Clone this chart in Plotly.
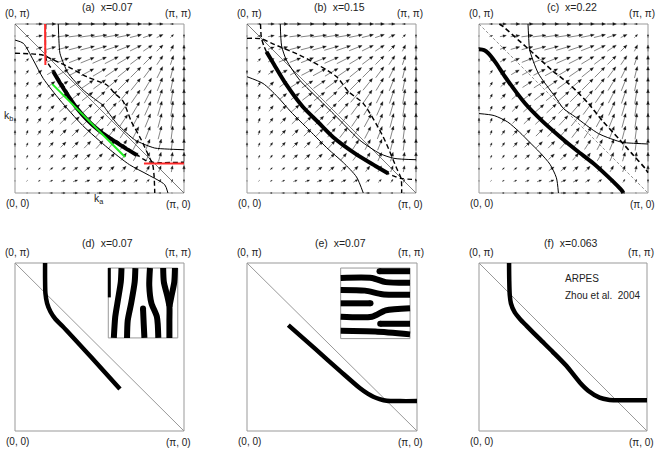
import plotly.graph_objects as go

# ---------------- data (k in units of pi, 0..1) ----------------
grid_k = [0.0, 0.0714, 0.1429, 0.2143, 0.2857, 0.3571, 0.4286, 0.5,
          0.5714, 0.6429, 0.7143, 0.7857, 0.8571, 0.9286, 1.0]

# velocity arrows, rows = k_b (bottom -> top), columns = k_a (left -> right)
vel_u = [
    [0, .11, .22, .31, .39, .45, .49, .50, .49, .45, .39, .31, .22, .11, 0],
    [0, .11, .22, .32, .40, .46, .50, .51, .50, .46, .40, .32, .22, .11, 0],
    [0, .12, .24, .34, .43, .50, .53, .55, .53, .50, .43, .34, .24, .12, 0],
    [0, .13, .26, .38, .48, .55, .59, .61, .59, .55, .48, .38, .26, .13, 0],
    [0, .15, .30, .43, .54, .62, .67, .69, .67, .62, .54, .43, .30, .15, 0],
    [0, .17, .34, .49, .61, .70, .76, .78, .76, .70, .61, .49, .34, .17, 0],
    [0, .20, .38, .55, .69, .80, .86, .89, .86, .80, .69, .55, .38, .20, 0],
    [0, .22, .43, .62, .78, .90, .97, 1.0, .97, .90, .78, .62, .43, .22, 0],
    [0, .24, .48, .69, .87, 1.0, 1.08, 1.11, 1.08, 1.0, .87, .69, .48, .24, 0],
    [0, .27, .52, .75, .95, 1.10, 1.18, 1.22, 1.18, 1.10, .95, .75, .52, .27, 0],
    [0, .29, .56, .81, 1.02, 1.18, 1.27, 1.31, 1.27, 1.18, 1.02, .81, .56, .29, 0],
    [0, .31, .60, .86, 1.09, 1.25, 1.35, 1.39, 1.35, 1.25, 1.09, .86, .60, .31, 0],
    [0, .32, .63, .90, 1.13, 1.31, 1.41, 1.45, 1.41, 1.31, 1.13, .90, .63, .32, 0],
    [0, .33, .64, .92, 1.16, 1.34, 1.45, 1.49, 1.45, 1.34, 1.16, .92, .64, .33, 0],
    [0, .33, .65, .93, 1.17, 1.35, 1.46, 1.50, 1.46, 1.35, 1.17, .93, .65, .33, 0],
]
vel_v = [
    [0, 0, 0, 0, 0, 0, 0, 0, 0, 0, 0, 0, 0, 0, 0],
    [.11, .11, .12, .13, .15, .17, .20, .22, .24, .27, .29, .31, .32, .33, .33],
    [.22, .22, .24, .26, .30, .34, .38, .43, .48, .52, .56, .60, .63, .64, .65],
    [.31, .32, .34, .38, .43, .49, .55, .62, .69, .75, .81, .86, .90, .92, .93],
    [.39, .40, .43, .48, .54, .61, .69, .78, .87, .95, 1.02, 1.09, 1.13, 1.16, 1.17],
    [.45, .46, .50, .55, .62, .70, .80, .90, 1.0, 1.10, 1.18, 1.25, 1.31, 1.34, 1.35],
    [.49, .50, .53, .59, .67, .76, .86, .97, 1.08, 1.18, 1.27, 1.35, 1.41, 1.45, 1.46],
    [.50, .51, .55, .61, .69, .78, .89, 1.0, 1.11, 1.22, 1.31, 1.39, 1.45, 1.49, 1.50],
    [.49, .50, .53, .59, .67, .76, .86, .97, 1.08, 1.18, 1.27, 1.35, 1.41, 1.45, 1.46],
    [.45, .46, .50, .55, .62, .70, .80, .90, 1.0, 1.10, 1.18, 1.25, 1.31, 1.34, 1.35],
    [.39, .40, .43, .48, .54, .61, .69, .78, .87, .95, 1.02, 1.09, 1.13, 1.16, 1.17],
    [.31, .32, .34, .38, .43, .49, .55, .62, .69, .75, .81, .86, .90, .92, .93],
    [.22, .22, .24, .26, .30, .34, .38, .43, .48, .52, .56, .60, .63, .64, .65],
    [.11, .11, .12, .13, .15, .17, .20, .22, .24, .27, .29, .31, .32, .33, .33],
    [0, 0, 0, 0, 0, 0, 0, 0, 0, 0, 0, 0, 0, 0, 0],
]

# panel (a) x=0.07
a_outer = [(0.256, 1.0), (0.26, 0.90), (0.266, 0.827), (0.29, 0.76), (0.315, 0.708), (0.404, 0.609),
           (0.493, 0.54), (0.52, 0.52), (0.54, 0.493), (0.609, 0.404), (0.708, 0.315), (0.76, 0.29),
           (0.827, 0.266), (0.90, 0.26), (1.0, 0.256)]
a_inner = [(0.0, 0.905), (0.049, 0.886), (0.108, 0.787), (0.167, 0.678), (0.266, 0.55), (0.40, 0.40),
           (0.55, 0.266), (0.678, 0.167), (0.787, 0.108), (0.886, 0.049), (0.905, 0.0)]
a_dash_outer = [(0.0, 0.827), (0.10, 0.823), (0.167, 0.815), (0.207, 0.797), (0.315, 0.747), (0.424, 0.688),
                (0.543, 0.639), (0.59, 0.59), (0.639, 0.543), (0.688, 0.424), (0.747, 0.315), (0.797, 0.207),
                (0.815, 0.167), (0.823, 0.10), (0.827, 0.0)]
a_dash_inner = [(0.182, 1.0), (0.18, 0.86), (0.185, 0.79), (0.20, 0.76), (0.237, 0.708), (0.30, 0.615),
                (0.365, 0.50), (0.43, 0.43), (0.50, 0.365), (0.615, 0.30), (0.708, 0.237), (0.76, 0.20),
                (0.79, 0.185), (0.86, 0.18), (1.0, 0.182)]
a_thick = [(0.227, 0.718), (0.27, 0.645), (0.32, 0.568), (0.37, 0.497), (0.43, 0.43), (0.497, 0.37),
           (0.568, 0.32), (0.645, 0.27), (0.72, 0.225)]
a_green = [(0.221, 0.644), (0.651, 0.213)]
a_red_v = [(0.178, 1.0), (0.180, 0.757)]
a_red_h = [(0.763, 0.174), (1.0, 0.174)]

# panel (b) x=0.15
b_outer = [(0.197, 1.0), (0.205, 0.87), (0.233, 0.787), (0.312, 0.668), (0.431, 0.549), (0.49, 0.49),
           (0.549, 0.431), (0.668, 0.312), (0.787, 0.233), (0.87, 0.205), (1.0, 0.197)]
b_inner = [(0.0, 0.688), (0.095, 0.648), (0.18, 0.57), (0.26, 0.48), (0.37, 0.37), (0.48, 0.26),
           (0.57, 0.18), (0.648, 0.095), (0.688, 0.0)]
b_dash_outer = [(0.0, 0.915), (0.085, 0.912), (0.15, 0.884), (0.332, 0.806), (0.53, 0.688), (0.60, 0.60),
                (0.688, 0.53), (0.806, 0.332), (0.884, 0.15), (0.912, 0.085), (0.915, 0.0)]
b_dash_inner = [(0.08, 1.0), (0.085, 0.92), (0.10, 0.87), (0.115, 0.836), (0.16, 0.76), (0.23, 0.645),
                (0.33, 0.51), (0.42, 0.42), (0.51, 0.33), (0.645, 0.23), (0.76, 0.16), (0.836, 0.115),
                (0.87, 0.10), (0.92, 0.085), (1.0, 0.08)]
b_thick = [(0.115, 0.836), (0.16, 0.76), (0.23, 0.645), (0.33, 0.51), (0.42, 0.42), (0.51, 0.33),
           (0.645, 0.23), (0.76, 0.16), (0.836, 0.115)]

# panel (c) x=0.22
c_outer = [(0.29, 1.0), (0.295, 0.90), (0.30, 0.846), (0.351, 0.708), (0.45, 0.57), (0.50, 0.50),
           (0.57, 0.45), (0.708, 0.351), (0.846, 0.30), (0.90, 0.295), (1.0, 0.29)]
c_inner = [(0.0, 0.47), (0.09, 0.458), (0.17, 0.42), (0.24, 0.36), (0.30, 0.30), (0.36, 0.24),
           (0.42, 0.17), (0.458, 0.09), (0.47, 0.0)]
c_dash = [(0.12, 1.0), (0.144, 0.984), (0.233, 0.905), (0.321, 0.827), (0.43, 0.728), (0.528, 0.649),
          (0.59, 0.59), (0.649, 0.528), (0.728, 0.43), (0.827, 0.321), (0.905, 0.233), (0.984, 0.144),
          (1.0, 0.12)]
c_thick = [(0.0, 0.85), (0.03, 0.845), (0.055, 0.827), (0.10, 0.77), (0.154, 0.688), (0.272, 0.531),
           (0.37, 0.43), (0.479, 0.333), (0.58, 0.25), (0.676, 0.176), (0.76, 0.10), (0.815, 0.047),
           (0.845, 0.015), (0.854, 0.0)]

# bottom row Fermi arcs
d_thick = [(0.178, 1.0), (0.178, 0.90), (0.18, 0.82), (0.19, 0.76), (0.21, 0.71), (0.24, 0.665),
           (0.28, 0.625), (0.45, 0.44), (0.621, 0.25)]
e_thick = [(0.243, 0.63), (0.40, 0.49), (0.55, 0.355), (0.665, 0.254), (0.71, 0.222), (0.743, 0.204),
           (0.78, 0.19), (0.822, 0.18), (0.90, 0.178), (1.0, 0.178)]
f_thick = [(0.179, 1.0), (0.18, 0.90), (0.183, 0.81), (0.19, 0.76), (0.212, 0.707), (0.245, 0.665),
           (0.282, 0.627), (0.361, 0.548), (0.44, 0.47), (0.52, 0.388), (0.60, 0.289), (0.65, 0.24),
           (0.718, 0.199), (0.77, 0.186), (0.817, 0.183), (0.90, 0.183), (1.0, 0.183)]

# stripe insets, local coordinates (0..1 across the inset)
d_stripes = [
    [(0.19, 1.0), (0.18, 0.8), (0.14, 0.55), (0.10, 0.3), (0.08, 0.0)],
    [(0.39, 1.0), (0.38, 0.8), (0.33, 0.5), (0.28, 0.25), (0.27, 0.0)],
    [(0.52, 0.0), (0.51, 0.2), (0.50, 0.42)],
    [(0.60, 1.0), (0.59, 0.75), (0.62, 0.5), (0.70, 0.3), (0.72, 0.0)],
    [(0.79, 1.0), (0.80, 0.8), (0.85, 0.6), (0.88, 0.45), (0.88, 0.25), (0.88, 0.0)],
    [(0.96, 1.0), (0.95, 0.8), (0.91, 0.6), (0.88, 0.45)],
]
d_edge = [(0.015, 1.0), (0.015, 0.58)]
d_tips = [(0.50, 0.42)]
e_stripes = [
    [(0.56, 0.955), (1.0, 0.955)],
    [(0.0, 0.86), (0.45, 0.86), (0.65, 0.80), (1.0, 0.79)],
    [(0.0, 0.69), (0.35, 0.68), (0.6, 0.63), (1.0, 0.62)],
    [(0.0, 0.50), (0.43, 0.50)],
    [(0.0, 0.31), (0.45, 0.31), (0.65, 0.40), (1.0, 0.43)],
    [(0.57, 0.21), (1.0, 0.21)],
    [(0.0, 0.11), (0.5, 0.10), (1.0, 0.06)],
]
e_tips = [(0.56, 0.955), (0.43, 0.50), (0.57, 0.21)]

titles = ['(a)\u00a0 x=0.07', '(b)\u00a0 x=0.15', '(c)\u00a0 x=0.22',
          '(d)\u00a0 x=0.07', '(e)\u00a0 x=0.07', '(f)\u00a0 x=0.063']
corner_labels = ['(0, \u03c0)', '(\u03c0, \u03c0)', '(0, 0)', '(\u03c0, 0)']

# ---------------- layout ----------------
W, H = 667, 450
PAD = 0.03
ARROW_PX = 10.0
HEAD_PX = 3.6
FONT = 'Liberation Sans, Arial, sans-serif'

boxes = [(15, 24, 184, 193), (247, 24, 416, 193), (479, 24, 648, 193),
         (15, 263, 184, 431), (247, 263, 417, 431), (479, 263, 647, 431)]
inset_d = (0.552, 0.554, 0.963, 0.97)
inset_e = (0.551, 0.55, 0.959, 0.97)

fig = go.Figure()
lay = dict(width=W, height=H, margin=dict(l=0, r=0, t=0, b=0),
           plot_bgcolor='white', paper_bgcolor='white', showlegend=False)
shapes, notes = [], []


def axn(n):
    return ('x', 'y') if n == 1 else ('x%d' % n, 'y%d' % n)


for n, (l, t, r, b) in enumerate(boxes, start=1):
    wp, hp = r - l, b - t
    xa, ya = axn(n)
    lay['xaxis' + xa[1:]] = dict(domain=[(l - PAD * wp) / W, (r + PAD * wp) / W],
                                 range=[-PAD, 1 + PAD], visible=False, anchor=ya)
    lay['yaxis' + ya[1:]] = dict(domain=[1 - (b + PAD * hp) / H, 1 - (t - PAD * hp) / H],
                                 range=[-PAD, 1 + PAD], visible=False, anchor=xa)
    shapes.append(dict(type='rect', xref=xa, yref=ya, x0=0, y0=0, x1=1, y1=1,
                       line=dict(color='#999', width=1), layer='below'))


def curve(n, pts, color='black', width=1.0, dash='solid', smooth=True):
    xa, ya = axn(n)
    fig.add_trace(go.Scatter(
        x=[p[0] for p in pts], y=[p[1] for p in pts], mode='lines',
        line=dict(color=color, width=width, dash=dash,
                  shape='spline' if smooth else 'linear', smoothing=0.7),
        xaxis=xa, yaxis=ya, hoverinfo='skip'))


def arrows(n):
    l, t, r, b = boxes[n - 1]
    bpx = float(r - l)
    sx, sy, hx, hy = [], [], [], []
    for i, ky in enumerate(grid_k):
        for j, kx in enumerate(grid_k):
            u = vel_u[i][j] * ARROW_PX / bpx
            v = vel_v[i][j] * ARROW_PX / bpx
            L = (u * u + v * v) ** 0.5
            if L == 0:
                continue
            ex, ey = u / L, v / L
            x0, y0, x1, y1 = kx - u / 2, ky - v / 2, kx + u / 2, ky + v / 2
            h = min(HEAD_PX / bpx, 0.5 * L)
            w = 0.4 * h
            bx, by = x1 - ex * h, y1 - ey * h
            sx += [x0, bx, None]
            sy += [y0, by, None]
            hx += [x1, bx - ey * w, bx + ey * w, x1, None]
            hy += [y1, by + ex * w, by - ex * w, y1, None]
    xa, ya = axn(n)
    fig.add_trace(go.Scatter(x=sx, y=sy, mode='lines', line=dict(color='#333', width=0.6),
                             xaxis=xa, yaxis=ya, hoverinfo='skip'))
    fig.add_trace(go.Scatter(x=hx, y=hy, mode='lines', fill='toself', fillcolor='#111',
                             line=dict(color='#111', width=0.3),
                             xaxis=xa, yaxis=ya, hoverinfo='skip'))


def inset(n, rect, strokes, tips, extra=None):
    x0, y0, x1, y1 = rect
    xa, ya = axn(n)
    shapes.append(dict(type='rect', xref=xa, yref=ya, x0=x0, y0=y0, x1=x1, y1=y1,
                       fillcolor='white', line=dict(color='#999', width=1), layer='below'))

    def m(p):
        return (x0 + p[0] * (x1 - x0), y0 + p[1] * (y1 - y0))

    for s in strokes:
        curve(n, [m(p) for p in s], width=6)
    if extra:
        curve(n, [m(p) for p in extra], width=3)
    fig.add_trace(go.Scatter(x=[m(p)[0] for p in tips], y=[m(p)[1] for p in tips], mode='markers',
                             marker=dict(color='black', size=6, line=dict(width=0)),
                             xaxis=xa, yaxis=ya, hoverinfo='skip'))


diag = [(0.0, 1.0), (1.0, 0.0)]

# (a)
arrows(1)
curve(1, diag, color='#444', width=0.7, smooth=False)
curve(1, a_outer)
curve(1, a_inner)
curve(1, a_dash_outer, width=1.4, dash='5px,3px')
curve(1, a_dash_inner, width=1.4, dash='5px,3px')
curve(1, a_thick, width=4)
curve(1, a_green, color='#22ee22', width=2, smooth=False)
curve(1, a_red_v, color='#ff2a2a', width=2, smooth=False)
curve(1, a_red_h, color='#ff2a2a', width=2, smooth=False)

# (b)
arrows(2)
curve(2, diag, color='#444', width=0.7, smooth=False)
curve(2, b_outer)
curve(2, b_inner)
curve(2, b_dash_outer, width=1.4, dash='5px,3px')
curve(2, b_dash_inner, width=1.4, dash='5px,3px')
curve(2, b_thick, width=4)

# (c)
arrows(3)
curve(3, diag, color='#666', width=0.7, dash='3px,2px', smooth=False)
curve(3, c_outer)
curve(3, c_inner)
curve(3, c_dash, width=1.6, dash='5px,3px')
curve(3, c_thick, width=4)

# (d) (e) (f)
for n in (4, 5, 6):
    curve(n, diag, color='#999', width=1, smooth=False)
curve(4, d_thick, width=4.5)
inset(4, inset_d, d_stripes, d_tips, extra=d_edge)
curve(5, e_thick, width=4.5)
inset(5, inset_e, e_stripes, e_tips)
curve(6, f_thick, width=4.5)


def note(px, py, text, size=10, anchor='center'):
    notes.append(dict(x=px / W, y=1 - py / H, xref='paper', yref='paper', text=text,
                      showarrow=False, xanchor=anchor, yanchor='middle',
                      font=dict(family=FONT, size=size, color='#222')))


for k, (l, t, r, b) in enumerate(boxes):
    note((l + r) / 2 + 8, t - 17 if k < 3 else t - 20, titles[k], size=10.5)
    note(l + 2, t - 10, corner_labels[0])
    note(r - 6, t - 10, corner_labels[1])
    note(l + 2, b + 10, corner_labels[2])
    note(r - 6, b + 11, corner_labels[3])

note(8, 116, 'k<sub>b</sub>', size=10.5)
note(99, 199, 'k<sub>a</sub>', size=10.5)
note(563, 278, 'ARPES', anchor='left')
note(563, 295, 'Zhou et al.\u00a0 2004', anchor='left')

lay['shapes'] = shapes
lay['annotations'] = notes
fig.update_layout(**lay)
# the page body keeps a default margin; drop it so the figure sits at the window corner
fig.write_html('out.html', config={'displayModeBar': False},
               post_script="document.body.style.margin='0';")
